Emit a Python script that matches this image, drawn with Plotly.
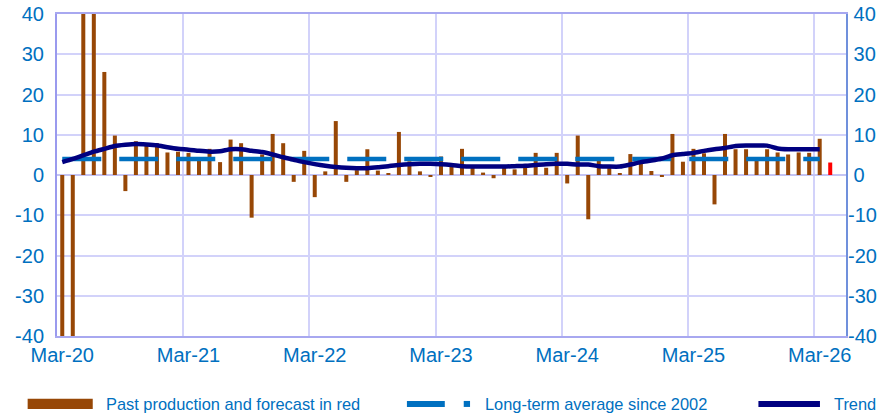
import pandas as pd
import plotly.graph_objects as go

# ---- data ----
months = pd.date_range("2020-03-01", "2026-05-01", freq="MS").strftime("%b-%y").tolist()

production = [
    -45, -42, 45, 48, 25.6, 9.8, -4.0, 8.4, 7.9, 7.9, 5.6, 5.8,      # Mar-20 .. Feb-21
    5.5, 3.6, 6.5, 3.2, 8.8, 7.9, -10.6, 5.1, 10.2, 7.9, -1.7, 6.0,  # Mar-21 .. Feb-22
    -5.5, 0.9, 13.4, -1.7, 1.2, 6.4, 1.1, 0.5, 10.7, 3.4, 0.9, -0.4, # Mar-22 .. Feb-23
    4.6, 2.1, 6.5, 1.8, 0.6, -0.8, 1.8, 1.4, 1.8, 5.5, 1.8, 5.5,     # Mar-23 .. Feb-24
    -2.1, 9.8, -11.0, 3.5, 2.3, 0.5, 5.2, 3.1, 1.0, -0.3, 10.2, 3.3, # Mar-24 .. Feb-25
    6.5, 5.4, -7.3, 10.2, 6.4, 6.4, 3.5, 6.4, 5.6, 5.1, 5.6, 5.5,    # Mar-25 .. Feb-26
    9.0, 3.1, None,                                                  # Mar-26 .. May-26
]
forecast_flag = [False] * 73 + [True, False]

trend = [
    3.2, 4.0, 4.9, 5.8, 6.5, 7.2, 7.5, 7.7, 7.6, 7.4, 6.9, 6.5,
    6.3, 6.0, 5.8, 5.9, 6.4, 6.4, 6.0, 5.7, 5.1, 4.4, 3.8, 3.2,
    2.7, 2.3, 2.0, 1.8, 1.7, 1.7, 1.9, 2.2, 2.5, 2.7, 2.8, 2.8,
    2.7, 2.5, 2.2, 2.1, 2.1, 2.1, 2.1, 2.2, 2.3, 2.5, 2.7, 2.8,
    2.8, 2.6, 2.6, 2.2, 2.1, 2.1, 2.6, 3.2, 3.6, 4.1, 4.9, 5.2,
    5.5, 6.0, 6.4, 6.7, 7.2, 7.3, 7.3, 7.3, 6.6, 6.4, 6.4, 6.4,
    6.4, None, None,
]
long_term_avg = [4.0] * 73 + [None, None]

tick_labels = ["Mar-20", "Mar-21", "Mar-22", "Mar-23", "Mar-24", "Mar-25", "Mar-26"]
y_ticks = [-40, -30, -20, -10, 0, 10, 20, 30, 40]
y_tick_text = ["-40", "-30", "-20", "-10", "0", "10", "20", "30", "40"]
# right-hand labels: positives padded so digits line up after the minus sign
y_tick_text_right = [t if t.startswith("-") else "\u00a0" + t for t in y_tick_text]

# month index positions (category slots) and label positions
xpos = list(range(len(months)))
label_pos = [months.index(m) for m in tick_labels]

# ---- styles ----
BROWN = "#974706"
RED = "#FF0000"
LT_BLUE = "#0070C0"
NAVY = "#000080"
TXT = "#0070C0"
GRID = "#D2D2FA"
FONT = "Liberation Sans, Arial, sans-serif"

bar_colors = [RED if f else BROWN for f in forecast_flag]

fig = go.Figure()
fig.add_trace(go.Bar(x=xpos, y=production, marker=dict(color=bar_colors, line=dict(width=0)),
                     width=0.38, showlegend=False, customdata=months,
                     hovertemplate="%{customdata}: %{y}<extra></extra>"))
fig.add_trace(go.Scatter(x=xpos, y=long_term_avg, mode="lines",
                         line=dict(color=LT_BLUE, width=4.5, dash="39px,18px"),
                         showlegend=False))
fig.add_trace(go.Scatter(x=xpos, y=trend, mode="lines",
                         line=dict(color=NAVY, width=4.5, shape="spline", smoothing=0.6),
                         showlegend=False))
# right axis companion (same scale)
fig.add_trace(go.Scatter(x=xpos, y=long_term_avg, mode="lines", yaxis="y2",
                         line=dict(width=0), hoverinfo="skip", showlegend=False))

fig.update_layout(
    width=880, height=419,
    margin=dict(l=57, r=34, t=14, b=83),
    paper_bgcolor="white", plot_bgcolor="white",
    font=dict(family=FONT, color=TXT, size=18),
    xaxis=dict(range=[-0.5, len(months) - 0.5], automargin=False, tickangle=0,
               tickmode="array", tickvals=label_pos, ticktext=tick_labels,
               ticks="", showgrid=False, zeroline=False,
               minor=dict(tick0=-0.5, dtick=12, showgrid=True, gridcolor=GRID, gridwidth=1.5,
                          ticks=""),
               showline=True, linecolor="#A8A8F0", linewidth=2, mirror=True,
               tickfont=dict(size=20, color=TXT), fixedrange=True),
    yaxis=dict(range=[-40, 40], tickvals=y_ticks, ticktext=y_tick_text, automargin=False,
               showgrid=True, gridcolor=GRID, gridwidth=1.5,
               zeroline=True, zerolinecolor="#C4C4F4", zerolinewidth=2,
               showline=True, linecolor="#9A9AEE", linewidth=2,
               ticks="outside", ticklen=1, tickcolor="rgba(0,0,0,0)", ticklabelstandoff=6,
               tickfont=dict(size=20, color=TXT)),
    yaxis2=dict(range=[-40, 40], tickvals=y_ticks, ticktext=y_tick_text_right, automargin=False,
                overlaying="y", side="right",
                showgrid=False, zeroline=False, showline=True, linecolor="#7090DC", linewidth=2,
                ticks="outside", ticklen=1, tickcolor="rgba(0,0,0,0)", ticklabelstandoff=-5,
                tickfont=dict(size=20, color=TXT)),
)

# ---- legend (drawn in paper space) ----
y_leg = -0.211
fig.add_shape(type="rect", xref="paper", yref="paper", x0=-0.0372, x1=0.0453,
              y0=y_leg - 0.016, y1=y_leg + 0.016, fillcolor=BROWN, line=dict(width=0))
fig.add_shape(type="line", xref="paper", yref="paper", x0=0.4435, x1=0.4915,
              y0=y_leg, y1=y_leg, line=dict(color=LT_BLUE, width=6))
fig.add_shape(type="line", xref="paper", yref="paper", x0=0.5155, x1=0.5235,
              y0=y_leg, y1=y_leg, line=dict(color=LT_BLUE, width=6))
fig.add_shape(type="line", xref="paper", yref="paper", x0=0.889, x1=0.967,
              y0=y_leg, y1=y_leg, line=dict(color=NAVY, width=6))
for xp, txt in [(0.0592, "Past production and forecast in red"),
                (0.540, "Long-term average since 2002"),
                (0.9826, "Trend")]:
    fig.add_annotation(xref="paper", yref="paper", x=xp, y=y_leg, text=txt, showarrow=False,
                       xanchor="left", yanchor="middle", font=dict(size=16.4, color=TXT, family=FONT))

fig.write_html("out.html", config={"displayModeBar": False},
               post_script="document.body.style.margin='0';document.body.style.padding='0';")
